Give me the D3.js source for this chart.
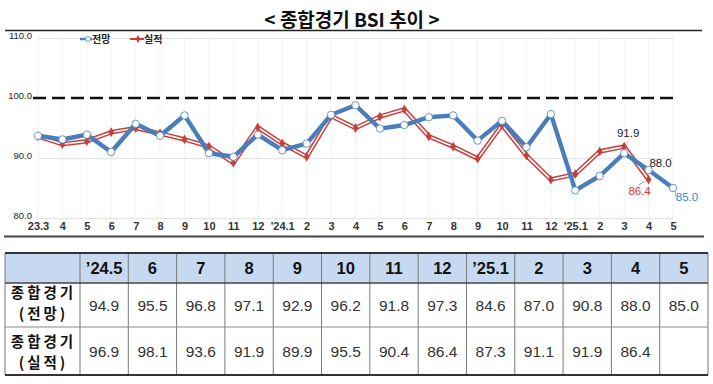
<!DOCTYPE html>
<html>
<head>
<meta charset="utf-8">
<script src="https://cdn.jsdelivr.net/npm/d3@7"></script>
<style>
  body { margin: 0; background: #fff; }
  text { font-family: "Liberation Sans", Arial, sans-serif; }
  .kr { font-family: "Noto Sans CJK KR", sans-serif; }
</style>
</head>
<body>
<script>
var width = 713;
var height = 384;

// x-axis months
var months = ["23.3", "4", "5", "6", "7", "8", "9", "10", "11", "12", "'24.1", "2", "3", "4",
  "5", "6", "7", "8", "9", "10", "11", "12", "'25.1", "2", "3", "4", "5"];
// 전망
var outlook = [93.7, 93.1, 93.9, 91.0, 95.7, 93.7, 97.1, 90.8, 90.2, 93.9, 91.3, 92.4, 97.2, 98.8,
  94.9, 95.5, 96.8, 97.1, 92.9, 96.2, 91.8, 97.3, 84.6, 87.0, 90.8, 88.0, 85.0];
// 실적
var actual = [93.6, 92.3, 92.8, 94.3, 95.0, 94.1, 93.1, 91.9, 89.2, 95.1, 92.4, 90.2, 97.0, 95.0,
  96.9, 98.1, 93.6, 91.9, 89.9, 95.5, 90.4, 86.4, 87.3, 91.1, 91.9, 86.4, null];
var yTicks = [80, 90, 100, 110];

// table
var tableHead = ["’24.5", "6", "7", "8", "9", "10", "11", "12", "’25.1", "2", "3", "4", "5"];
var tableOutlook = ["94.9", "95.5", "96.8", "97.1", "92.9", "96.2", "91.8", "97.3", "84.6", "87.0", "90.8", "88.0", "85.0"];
var tableActual = ["96.9", "98.1", "93.6", "91.9", "89.9", "95.5", "90.4", "86.4", "87.3", "91.1", "91.9", "86.4", ""];

var blue = "#4a7ebb";
var red = "#c8403c";

var svg = d3.select("body").append("svg")
  .attr("width", width).attr("height", height);

// title
svg.append("text").attr("class", "kr")
  .attr("x", 352).attr("y", 27)
  .attr("text-anchor", "middle")
  .style("font-size", "19px").style("font-weight", "bold").style("fill", "#111")
  .text("< 종합경기 BSI 추이 >");
svg.append("line").attr("x1", 5).attr("x2", 702).attr("y1", 30.5).attr("y2", 30.5)
  .style("stroke", "#222").style("stroke-width", 1.5);

var x = d3.scalePoint().domain(d3.range(months.length)).range([38, 673]);
var y = d3.scaleLinear().domain([80, 110]).range([218, 38]);

// faint vertical grid
svg.append("g").selectAll("line").data(d3.range(months.length)).enter().append("line")
  .attr("x1", function (d) { return x(d); }).attr("x2", function (d) { return x(d); })
  .attr("y1", y(110)).attr("y2", y(80))
  .style("stroke", "#f3f3f3");

// horizontal grid + y labels
var yAxis = d3.axisLeft(y).tickValues(yTicks).tickSize(0).tickPadding(5)
  .tickFormat(function (d) { return d.toFixed(1); });
var gy = svg.append("g").attr("transform", "translate(37,0)").call(yAxis);
gy.select(".domain").remove();
gy.selectAll("text")
  .style("font-family", "'Liberation Sans Narrow', 'Liberation Sans', Arial, sans-serif")
  .style("font-size", "9.5px").style("fill", "#222").attr("dy", "0");
svg.append("g").selectAll("line").data(yTicks.filter(function (d) { return d !== 100; }))
  .enter().append("line")
  .attr("x1", 38).attr("x2", 673)
  .attr("y1", function (d) { return y(d) + 0.5; }).attr("y2", function (d) { return y(d) + 0.5; })
  .style("stroke", "#e4e4e4");
svg.append("line").attr("x1", 33).attr("x2", 673).attr("y1", y(100)).attr("y2", y(100))
  .style("stroke", "#111").style("stroke-width", 2.5).style("stroke-dasharray", "13,6");

// x labels
var xAxis = d3.axisBottom(x).tickSize(0).tickPadding(4)
  .tickFormat(function (d) { return months[d]; });
var gx = svg.append("g").attr("transform", "translate(0," + y(80) + ")").call(xAxis);
gx.select(".domain").remove();
gx.selectAll("text")
  .style("font-family", "'Liberation Sans Narrow', 'Liberation Sans', Arial, sans-serif")
  .style("font-size", "11px").style("font-weight", "bold").style("fill", "#333");

// separator under chart
svg.append("line").attr("x1", 4).attr("x2", 704).attr("y1", 236.5).attr("y2", 236.5)
  .style("stroke", "#444").style("stroke-width", 1.8);

// series
var line = d3.line()
  .defined(function (d) { return d != null; })
  .x(function (d, i) { return x(i); })
  .y(function (d) { return y(d); });

svg.append("path").datum(actual).attr("d", line)
  .style("fill", "none").style("stroke", red).style("stroke-width", 4.6);
svg.append("path").datum(actual).attr("d", line)
  .style("fill", "none").style("stroke", "#fff").style("stroke-width", 1.6);
svg.append("g").selectAll("path").data(actual).enter()
  .append("path")
  .filter(function (d) { return d != null; })
  .attr("d", d3.symbol().type(d3.symbolDiamond).size(28))
  .attr("transform", function (d, i) { return "translate(" + x(i) + "," + y(d) + ")"; })
  .style("fill", red);

svg.append("path").datum(outlook).attr("d", line)
  .style("fill", "none").style("stroke", blue).style("stroke-width", 4.4);
svg.append("g").selectAll("circle").data(outlook).enter().append("circle")
  .attr("cx", function (d, i) { return x(i); })
  .attr("cy", function (d) { return y(d); })
  .attr("r", 3.7)
  .style("fill", "#fff").style("stroke", blue).style("stroke-width", 0.8);

// annotations
var n = months.length;
function note(i, v, dx, dy, txt, color) {
  svg.append("text")
    .attr("x", x(i) + dx).attr("y", y(v) + dy)
    .attr("text-anchor", "middle")
    .style("font-size", "11.5px").style("fill", color)
    .text(txt);
}
note(n - 3, actual[n - 3], 4, -9.5, "91.9", "#222");
note(n - 2, outlook[n - 2], 12, -3, "88.0", "#222");
note(n - 2, actual[n - 2], -9, 15.5, "86.4", "#e0302a");
note(n - 1, outlook[n - 1], 14, 12.5, "85.0", "#2e8bd0");
svg.append("line").attr("x1", x(n - 2) - 3).attr("x2", x(n - 2) - 10)
  .attr("y1", y(actual[n - 2]) + 2).attr("y2", y(actual[n - 2]) + 5)
  .style("stroke", "#888").style("stroke-width", 0.7);
svg.append("line").attr("x1", x(n - 1) + 2).attr("x2", x(n - 1) + 3)
  .attr("y1", y(outlook[n - 1]) + 3).attr("y2", y(outlook[n - 1]) + 9)
  .style("stroke", "#888").style("stroke-width", 0.7);
svg.append("line").attr("x1", x(n - 3) + 2).attr("x2", x(n - 3) + 5)
  .attr("y1", y(actual[n - 3]) - 3).attr("y2", y(actual[n - 3]) - 6)
  .style("stroke", "#888").style("stroke-width", 0.7);

// legend
var lg = svg.append("g");
lg.append("line").attr("x1", 80).attr("x2", 92).attr("y1", 39).attr("y2", 39)
  .style("stroke", blue).style("stroke-width", 2.5);
lg.append("circle").attr("cx", 88).attr("cy", 39).attr("r", 2.5)
  .style("fill", "#fff").style("stroke", blue).style("stroke-width", 0.8);
lg.append("text").attr("class", "kr").attr("x", 92).attr("y", 43)
  .style("font-size", "10px").style("font-weight", "bold").style("fill", "#222").text("전망");
lg.append("line").attr("x1", 130).attr("x2", 144).attr("y1", 39).attr("y2", 39)
  .style("stroke", red).style("stroke-width", 2);
lg.append("path").attr("d", d3.symbol().type(d3.symbolDiamond).size(18))
  .attr("transform", "translate(138,39)").style("fill", red);
lg.append("text").attr("class", "kr").attr("x", 144).attr("y", 43)
  .style("font-size", "10px").style("font-weight", "bold").style("fill", "#222").text("실적");

// table
var tx = d3.scaleBand().domain(d3.range(tableHead.length)).range([80, 708]);
var rowY = [253, 283, 327, 375];

svg.append("rect").attr("x", 5).attr("y", rowY[0]).attr("width", 703).attr("height", rowY[1] - rowY[0])
  .style("fill", "#c6d9f0");

var cols = [5, 80].concat(d3.range(1, tableHead.length + 1).map(function (i) { return 80 + i * tx.bandwidth(); }));
svg.append("g").selectAll("line").data(cols).enter().append("line")
  .attr("x1", function (d) { return d; }).attr("x2", function (d) { return d; })
  .attr("y1", rowY[0]).attr("y2", rowY[3])
  .style("stroke", "#777").style("stroke-width", 1);

svg.append("line").attr("x1", 5).attr("x2", 708).attr("y1", rowY[0]).attr("y2", rowY[0])
  .style("stroke", "#333").style("stroke-width", 2);
svg.append("line").attr("x1", 5).attr("x2", 708).attr("y1", rowY[1]).attr("y2", rowY[1])
  .style("stroke", "#444").style("stroke-width", 1.5);
svg.append("line").attr("x1", 5).attr("x2", 708).attr("y1", rowY[2]).attr("y2", rowY[2])
  .style("stroke", "#888").style("stroke-width", 1);
svg.append("line").attr("x1", 5).attr("x2", 708).attr("y1", rowY[3]).attr("y2", rowY[3])
  .style("stroke", "#333").style("stroke-width", 2);

svg.append("g").selectAll("text").data(tableHead).enter().append("text")
  .attr("x", function (d, i) { return tx(i) + tx.bandwidth() / 2; })
  .attr("y", 274)
  .attr("text-anchor", "middle")
  .style("font-size", "16.5px").style("font-weight", "bold").style("fill", "#111")
  .text(function (d) { return d; });

function valueRow(vals, yy) {
  svg.append("g").selectAll("text").data(vals).enter().append("text")
    .attr("x", function (d, i) { return tx(i) + tx.bandwidth() / 2; })
    .attr("y", yy)
    .attr("text-anchor", "middle")
    .style("font-size", "15.5px").style("fill", "#333")
    .text(function (d) { return d; });
}
valueRow(tableOutlook, 311);
valueRow(tableActual, 357);

// row labels, two lines each in a tight cell
function rowLabel(sub, yy) {
  svg.append("text").attr("class", "kr")
    .attr("x", 43.5).attr("y", yy)
    .attr("text-anchor", "middle")
    .style("font-size", "14.5px").style("font-weight", "bold").style("fill", "#111")
    .style("letter-spacing", "3px")
    .text("종합경기");
  svg.append("text").attr("class", "kr")
    .attr("x", 43.5).attr("y", yy + 21.2)
    .attr("text-anchor", "middle")
    .style("font-size", "14.5px").style("font-weight", "bold").style("fill", "#111")
    .style("letter-spacing", "3px")
    .text(sub);
}
rowLabel("(전망)", 298);
rowLabel("(실적)", 347);
</script>
</body>
</html>
